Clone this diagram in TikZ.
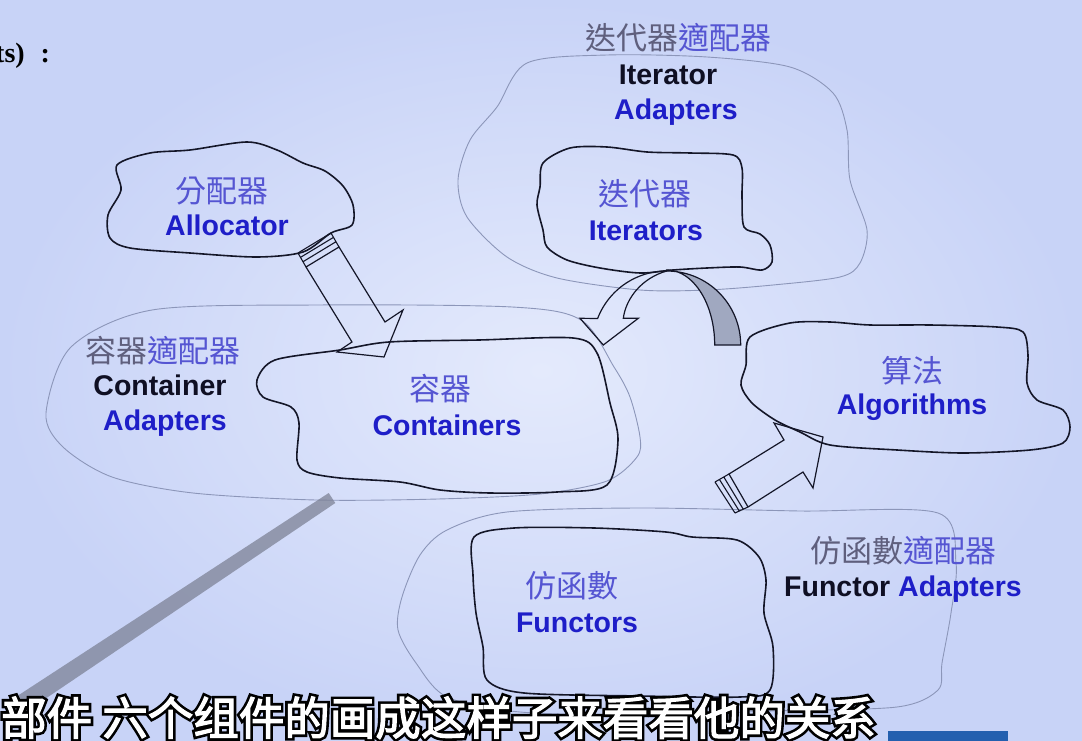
\documentclass[tikz,border=0pt]{standalone}
\usepackage{fontspec}
\setmainfont{Liberation Sans}
\newfontfamily\hanzi{Noto Sans CJK TC}
\newfontfamily\subfont{Noto Sans CJK SC}[FakeBold=2.5]
\newfontfamily\subedgefont{Noto Sans CJK SC}[FakeBold=14]
\newfontfamily\slidefont{Liberation Serif}
\usetikzlibrary{positioning, calc}

\definecolor{bgin}{RGB}{228,234,252}
\definecolor{bgout}{RGB}{200,211,247}
\definecolor{blobline}{RGB}{20,22,40}
\definecolor{adline}{RGB}{140,150,185}
\definecolor{enblue}{RGB}{30,30,200}
\definecolor{enblack}{RGB}{15,15,35}
\definecolor{cnblue}{RGB}{85,85,210}
\definecolor{cngray}{RGB}{95,95,125}
\definecolor{ribbon}{RGB}{160,168,192}
\definecolor{stick}{RGB}{125,130,150}
\definecolor{barblue}{RGB}{35,95,175}

\tikzset{
  blob/.style={draw=blobline, line width=1.6pt, smooth cycle, tension=0.5},
  adapter/.style={draw=adline, line width=0.9pt, smooth cycle, tension=0.5},
  en/.style={font=\fontsize{28.5}{30}\selectfont\bfseries, text=enblue, inner sep=0pt, anchor=base},
  enk/.style={en, text=enblack},
  cn/.style={font=\hanzi\fontsize{31}{33}\selectfont, text=cnblue, inner sep=0pt, anchor=base},
  cng/.style={cn, text=cngray},
  blockarrow/.style={draw=blobline, line width=1.2pt, line join=miter},
  capline/.style={draw=blobline, line width=1.1pt},
  subtitle/.style={font=\subfont\fontsize{45.5}{47}\selectfont, text=white, inner sep=0pt, anchor=base west},
  subedge/.style={subtitle, font=\subedgefont\fontsize{45.5}{47}\selectfont, text=black},
}

\begin{document}
\begin{tikzpicture}[x=1pt, y=-1pt]
   % slide background
   \useasboundingbox (0,0) rectangle (1082,741);
   \shade[inner color=bgin, outer color=bgout] (0,0) rectangle (1082,741);

   \node[font=\slidefont\bfseries\fontsize{28}{30}\selectfont, inner sep=0pt, anchor=base west] (heading) at (-5,63) {ts)\hspace{16pt}:};

   % adapters (thin outlines)
   \draw[adapter] plot coordinates {(497,107) (527,63) (607,55) (707,57) (790,67) (833,93) (847,130) (850,180) (867,230) (860,263) (840,277) (773,285) (707,290) (640,290) (557,278) (507,257) (467,217) (458,180) (470,140)};
   \draw[adapter] plot coordinates {(46,413) (63,447) (112,477) (193,493) (316,500) (438,499) (540,494) (607,481) (637,457) (640,437) (630,397) (614,367) (581,320) (512,307) (316,305) (152,310) (71,347)};
   \draw[adapter] plot coordinates {(402,597) (420,555) (447,530) (507,512) (640,508) (800,511) (938,513) (956,563) (951,613) (942,663) (938,690) (897,707) (772,711) (650,715) (520,712) (447,697) (416,663) (398,630)};

   % components (thick outlines)
   \draw[blob] plot coordinates {(117,165) (150,153) (190,150) (247,142) (277,150) (303,163) (325,171) (343,186) (353,205) (352,225) (331,233) (303,252) (257,257) (190,253) (130,248) (110,238) (108,215) (121,190)};
   \draw[blob] plot coordinates {(543,163) (570,148) (607,147) (647,152) (690,153) (733,155) (742,168) (742,197) (744,227) (760,234) (770,245) (772,262) (762,270) (740,267) (707,268) (673,270) (640,273) (600,268) (567,260) (547,247) (543,230) (537,205) (540,187)};
   \draw[blob] plot coordinates {(340,350) (389,342) (479,340) (573,338) (597,353) (610,403) (618,440) (607,485) (557,492) (490,493) (440,490) (400,482) (340,478) (307,472) (297,460) (299,423) (291,407) (263,397) (257,380) (275,360)};
   \draw[blob] plot coordinates {(750,337) (790,323) (830,322) (870,325) (930,325) (997,327) (1023,332) (1028,355) (1027,383) (1037,400) (1063,410) (1070,427) (1063,443) (1030,450) (963,453) (897,450) (830,445) (800,432) (775,420) (752,403) (741,385) (746,365)};
   \draw[blob] plot coordinates {(474,537) (514,528) (594,528) (666,532) (692,537) (737,540) (759,557) (766,580) (764,613) (773,647) (770,690) (740,697) (640,696) (524,693) (487,680) (483,647) (476,613) (473,575)};

   % block arrow Allocator -> Containers
   \draw[blockarrow] (306,267) -- (352,342) -- (337,352) -- (384,357) -- (403,310) -- (385,322) -- (339,247) -- cycle;
   \draw[capline] (298,253) -- (331,233) (300.6,257.3) -- (333.6,237.3) (303.2,261.6) -- (336.2,241.6)
                  (298,253) -- (306,267) (331,233) -- (339,247);

   % block arrow Functors -> Algorithms
   \draw[blockarrow] (729,474) -- (784,440) -- (774,423) -- (823,437) -- (813,488) -- (803,472) -- (748,507) -- cycle;
   \draw[capline] (715,482) -- (735,513) (719.3,479.3) -- (739.3,511) (724,477.3) -- (743.3,509.3)
                  (715,482) -- (729,474) (735,513) -- (748,507);

   % curved arrow Iterators -> Containers
   \filldraw[fill=ribbon, draw=blobline, line width=1.2pt]
     plot[domain=90:0, samples=30] ({666.7+74*cos(\x)},{345-74*sin(\x)})
     -- plot[domain=0:90, samples=30] ({666.7+48*cos(\x)},{345-75*sin(\x)}) -- cycle;
   \draw[blockarrow]
     plot[domain=90:159, samples=30] ({666.7+74*cos(\x)},{345-74*sin(\x)})
     -- (580,318.3) -- (603.3,345) -- (638.3,318.3) -- (623.3,318.3)
     .. controls (626,298) and (642,278) .. (666.7,271);

   % labels
   \node[cng] (itad-cn) at (678,50) {迭代器{\color{cnblue}適配器}};
   \node[enk] (itad-a) at (668,85) {Iterator};
   \node[en] (itad-b) at (676,120) {Adapters};
   \node[cn] (iter-cn) at (645,205) {迭代器};
   \node[en] (iter) at (646,240) {Iterators};
   \node[cn] (alloc-cn) at (222,202) {分配器};
   \node[en] (alloc) at (227,235) {Allocator};
   \node[cng] (cad-cn) at (163,362) {容器{\color{cnblue}適配器}};
   \node[enk] (cad-a) at (160,395) {Container};
   \node[en] (cad-b) at (165,430) {Adapters};
   \node[cn] (cont-cn) at (440,400) {容器};
   \node[en] (cont) at (447,435) {Containers};
   \node[cn] (algo-cn) at (912,382) {算法};
   \node[en] (algo) at (912,414) {Algorithms};
   \node[cn] (func-cn) at (572,597) {仿函數};
   \node[en] (func) at (577,632) {Functors};
   \node[cng] (fad-cn) at (903,562) {仿函數{\color{cnblue}適配器}};
   \node[enk] (fad) at (903,596) {Functor {\color{enblue}Adapters}};

   % pointer stick
   \fill[stick, opacity=0.75] (328.7,493) -- (335.3,503) -- (25,712.5) -- (15,697.5) -- cycle;

   % subtitle bar
   \fill[barblue] (888,731) rectangle (1008,741);
   \coordinate (subpos) at (1,735);
   \node[subedge] (subedge) at (subpos) {部件 六个组件的画成这样子来看看他的关系};
   \node[subtitle] (sub) at (subpos) {部件 六个组件的画成这样子来看看他的关系};
\end{tikzpicture}
\end{document}
